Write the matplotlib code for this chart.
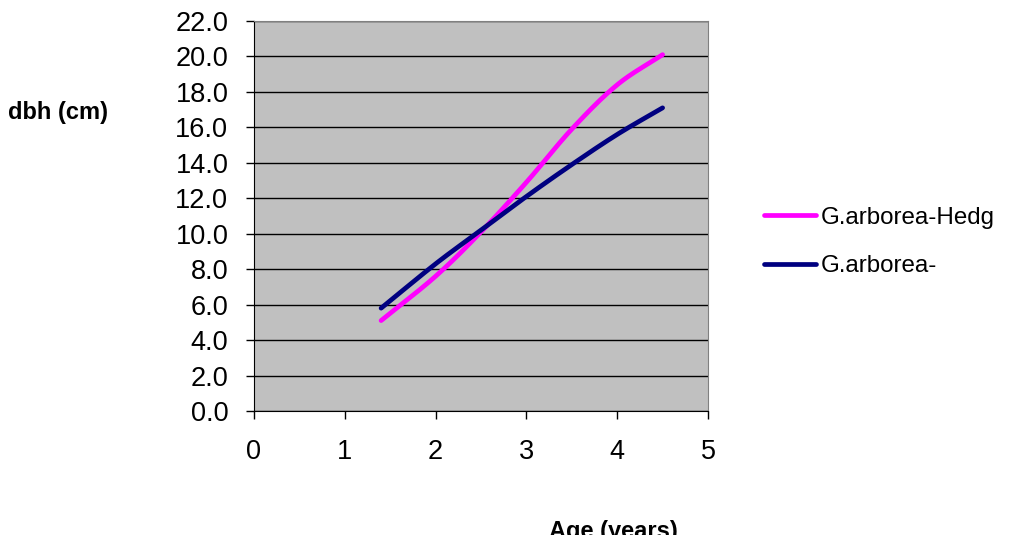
import numpy as np
import matplotlib.pyplot as plt

plt.rcParams['font.family'] = ['Liberation Sans', 'DejaVu Sans']

# dbh by age for the two G. arborea series
age = [1.4, 2.0, 2.5, 3.0, 3.5, 4.0, 4.5]
dbh_hedge = [5.1, 7.6, 10.1, 12.9, 15.9, 18.4, 20.1]
dbh_other = [5.8, 8.3, 10.2, 12.1, 13.9, 15.6, 17.1]
series_names = ['G.arborea-Hedg', 'G.arborea-']
series_colors = ['#FF00FF', '#000080']

y_ticks = np.arange(0, 22.1, 2.0)
x_ticks = [0, 1, 2, 3, 4, 5]


def smooth(xs, ys, steps=30):
    # Catmull-Rom curve through the points, like a spreadsheet "smoothed line"
    xs = np.asarray(xs, float)
    ys = np.asarray(ys, float)
    px = np.concatenate([[2 * xs[0] - xs[1]], xs, [2 * xs[-1] - xs[-2]]])
    py = np.concatenate([[2 * ys[0] - ys[1]], ys, [2 * ys[-1] - ys[-2]]])
    out_x, out_y = [], []
    t = np.linspace(0, 1, steps)
    for i in range(1, len(px) - 2):
        for arr, out in ((px, out_x), (py, out_y)):
            p0, p1, p2, p3 = arr[i - 1], arr[i], arr[i + 1], arr[i + 2]
            out.extend(0.5 * (2 * p1 + (-p0 + p2) * t
                              + (2 * p0 - 5 * p1 + 4 * p2 - p3) * t ** 2
                              + (-p0 + 3 * p1 - 3 * p2 + p3) * t ** 3))
    return out_x, out_y


fig = plt.figure(figsize=(10.09, 5.35), dpi=100)
ax = fig.add_axes([0.2517, 0.2318, 0.45, 0.7290])
ax.set_facecolor('#C0C0C0')

for ys, name, col in zip([dbh_hedge, dbh_other], series_names, series_colors):
    sx, sy = smooth(age, ys)
    ax.plot(sx, sy, color=col, lw=3.4, solid_capstyle='round', label=name)

ax.set_xlim(0, 5)
ax.set_ylim(0, 22)
ax.set_yticks(y_ticks)
ax.set_yticklabels([f'{v:.1f}' for v in y_ticks])
ax.set_xticks(x_ticks)
ax.yaxis.grid(True, color='black', lw=1)
ax.set_axisbelow(True)
ax.tick_params(axis='both', labelsize=19.5, length=6, width=1, direction='out',
               colors='black')
ax.tick_params(axis='y', pad=12.5)
ax.tick_params(axis='x', pad=14)
for side in ['top', 'right']:
    ax.spines[side].set_color('#808080')
for side in ['left', 'bottom']:
    ax.spines[side].set_color('black')

fig.text(0.0575, 1 - 113 / 535, 'dbh (cm)', fontsize=17, fontweight='bold',
         ha='center', va='center')
fig.text(0.6075, 1 - 520 / 535, 'Age (years)', fontsize=17, fontweight='bold',
         ha='center', va='top')

fig.legend(loc='center left', bbox_to_anchor=(0.757, 1 - 242 / 535),
           frameon=False, fontsize=17.4, handlelength=2.15,
           handletextpad=0.2, labelspacing=1.1, borderpad=0, borderaxespad=0)

fig.savefig('out.png', dpi=100)
